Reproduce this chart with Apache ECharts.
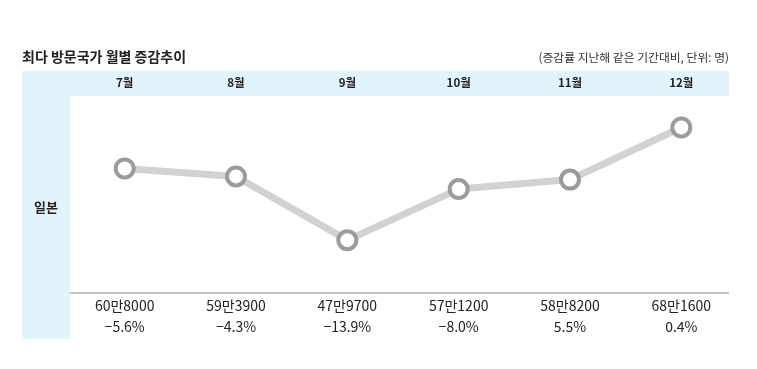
<!DOCTYPE html>
<html><head><meta charset="utf-8">
<script src="https://cdn.jsdelivr.net/npm/echarts@6/dist/echarts.min.js"></script>
<style>html,body{margin:0;padding:0;background:#fff}#c{width:757px;height:369px}</style>
</head><body><div id="c"></div>
<script>
const months = ['7월','8월','9월','10월','11월','12월'];
const visitors = [608000, 593900, 479700, 571200, 588200, 681600];
const changes = [-5.6, -4.3, -13.9, -8.0, 5.5, 0.4];
const country = '일본';
const title = '최다 방문국가 월별 증감추이';
const note = '(증감률 지난해 같은 기간대비, 단위: 명)';

const FONT = '"Noto Sans CJK KR", "Noto Sans", sans-serif';
function fmtVal(v){ const m=Math.floor(v/10000), r=v%10000; return m+'만'+String(r).padStart(4,'0'); }
function fmtPct(p){ return (p<0?'\u2212':'')+Math.abs(p).toFixed(1)+'%'; }

const chart = echarts.init(document.getElementById('c'), null, {renderer:'canvas'});
chart.setOption({
  backgroundColor:'#fff',
  animation:false,
  textStyle:{fontFamily:FONT},
  graphic:[
    {type:'rect', shape:{x:22,y:71,width:48,height:268}, style:{fill:'#e1f4fc'}, z:-10},
    {type:'rect', shape:{x:70,y:71,width:659,height:25}, style:{fill:'#e1f4fc'}, z:-10},
    {type:'line', shape:{x1:70,y1:293,x2:729,y2:293}, style:{stroke:'#8c8c8c',lineWidth:1}},
    {type:'text', left:22, top:50, style:{text:title, font:'bold 14px '+FONT, fill:'#222'}},
    {type:'text', right:28, top:52, style:{text:note, font:'11.8px '+FONT, fill:'#333'}},
    {type:'text', x:46, y:207, style:{text:country, font:'bold 13px '+FONT, fill:'#222', align:'center', verticalAlign:'middle'}}
  ],
  grid:{left:69, right:20, top:96, bottom:76},
  xAxis:[
    {type:'category', data:months, position:'top', boundaryGap:true,
     axisLine:{show:false}, axisTick:{show:false}, splitLine:{show:false},
     axisLabel:{margin:8, color:'#222', fontSize:11.5, fontWeight:'bold', fontFamily:FONT}},
    {type:'category', data:months, position:'bottom', boundaryGap:true,
     axisLine:{show:false}, axisTick:{show:false},
     axisLabel:{margin:2, interval:0,
       formatter:(val, idx)=>'{a|'+fmtVal(visitors[idx])+'}\n{b|'+fmtPct(changes[idx])+'}',
       rich:{a:{fontSize:14, color:'#222', lineHeight:21, fontFamily:FONT},
             b:{fontSize:14, color:'#222', lineHeight:21, fontFamily:FONT}}}}
  ],
  yAxis:{type:'value', min:385000, max:738000, show:false, splitLine:{show:false}},
  series:[{
    type:'line', xAxisIndex:0, data:visitors,
    symbol:'circle', symbolSize:18,
    lineStyle:{color:'#d2d2d2', width:7},
    itemStyle:{color:'#fff', borderColor:'#9b9b9b', borderWidth:4},
    label:{show:false}
  }]
});
</script></body></html>
